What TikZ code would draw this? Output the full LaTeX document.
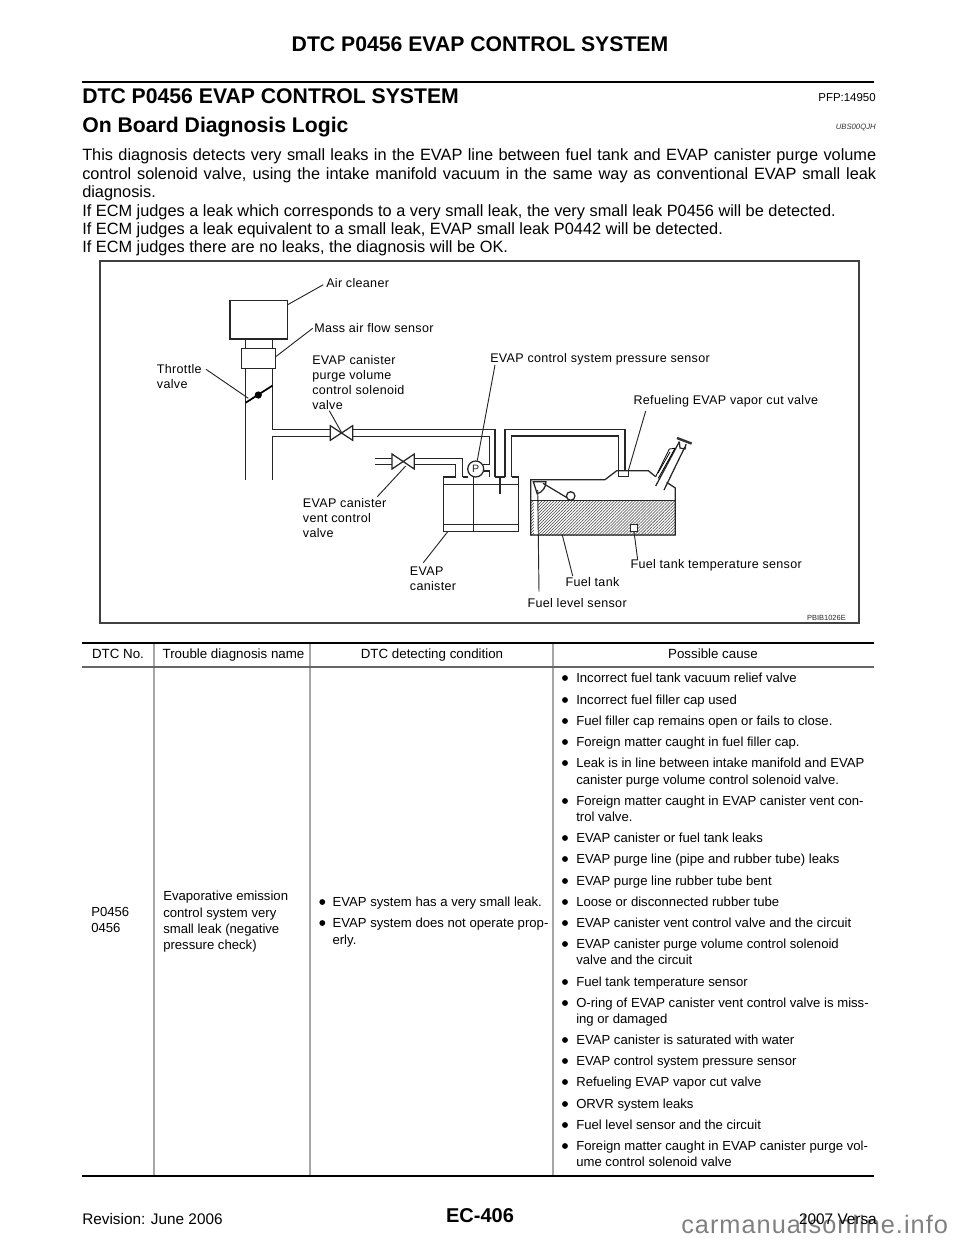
\documentclass[tikz,border=0pt]{standalone}
\usepackage{fontspec}
\setmainfont{Liberation Sans}
\newfontfamily\figfont[LetterSpace=2.5]{Liberation Sans}
\newfontfamily\markfont[LetterSpace=4]{Liberation Sans}
\usetikzlibrary{patterns.meta}

\begin{document}
\begin{tikzpicture}[x=0.75pt,y=-0.75pt,inner sep=0pt,
  heading/.style={font=\bfseries\fontsize{15.9}{18}\selectfont},
  bodytext/.style={anchor=north west,text width=595.5pt,align=justify,font=\fontsize{12.25}{13.8}\selectfont},
  cell/.style={anchor=base west,yshift=-3.4pt,font=\fontsize{9.85}{12}\selectfont},
  headcell/.style={anchor=base,yshift=-3.4pt,font=\fontsize{10}{12}\selectfont},
  dotmark/.style={circle,fill=black,minimum size=4.4pt},
  label/.style={anchor=west,align=left,font=\figfont\fontsize{9.4}{11.2}\selectfont},
  pipe/.style={line width=0.95pt,black!85},
  leader/.style={line width=0.7pt,black!85},
  tablegrid/.style={line width=1pt,black!35}]
\useasboundingbox (0,0) rectangle (960,1242);

% Page head
\node[heading] (pagetitle) at (480,44) {DTC P0456 EVAP CONTROL SYSTEM};
\draw[line width=2pt] (82,82) -- (874,82);
\node[heading,anchor=west] (secttitle) at (82,96) {DTC P0456 EVAP CONTROL SYSTEM};
\node[heading,anchor=west] (subtitle) at (82,127) {On Board Diagnosis Logic};
\node[anchor=east,font=\fontsize{8.6}{10}\selectfont] (pfp) at (876,98) {PFP:14950};
\node[anchor=east,font=\itshape\fontsize{5.8}{7}\selectfont,black!80] (ubs) at (876,128) {UBS00QJH};

% Intro text
\node[bodytext] (intro) at (82,148.7) {This diagnosis detects very small leaks in the EVAP line between fuel tank and EVAP canister purge volume control solenoid valve, using the intake manifold vacuum in the same way as conventional EVAP small leak diagnosis.\\
If ECM judges a leak which corresponds to a very small leak, the very small leak P0456 will be detected.\\
If ECM judges a leak equivalent to a small leak, EVAP small leak P0442 will be detected.\\
If ECM judges there are no leaks, the diagnosis will be OK.};

% Figure frame
\draw[line width=1.5pt,black!75] (100,261) rectangle (859,623);

% Intake
\draw[pipe] (245.7,339) -- (245.7,480);
\draw[pipe] (272.3,339) -- (272.3,429.3) -- (330.3,429.3);
\draw[pipe] (272.3,480) -- (272.3,436.7) -- (330.3,436.7);
\draw[pipe,fill=white] (230,300.3) rectangle (287.7,339);
\draw[pipe,fill=white] (241.3,348.7) rectangle (275.7,368.3);
\draw[line width=1.3pt] (245.7,402.7) -- (272.3,385.7);
\fill (258.3,395) circle (2.7pt);

% Purge valve and its lines
\draw[pipe] (330.3,425.7) -- (352.7,440.3) -- (352.7,425.7) -- (330.3,440.3) -- cycle;
\draw[pipe] (352.7,429.3) -- (495,429.3) -- (495,476.7);
\draw[pipe] (352.7,436.7) -- (489.3,436.7) -- (489.3,464.3) -- (483,464.3);
\draw[pipe] (483.5,471) -- (489.3,471) -- (489.3,476.7);

% Vent valve and its lines
\draw[pipe] (392,454) -- (414.3,469) -- (414.3,454) -- (392,469) -- cycle;
\draw[pipe] (375.3,458.3) -- (392,458.3);
\draw[pipe] (375.3,464.3) -- (392,464.3);
\draw[pipe] (414.3,458.3) -- (462.7,458.3) -- (462.7,477);
\draw[pipe] (414.3,464.3) -- (455.7,464.3) -- (455.7,477);

% Canister
\draw[pipe] (455.7,477) -- (443.5,477) -- (443.5,531.7) -- (518.7,531.7) -- (518.7,477) -- (511.7,477);
\draw[pipe] (462.7,477) -- (468,477);
\draw[pipe] (495,477) -- (505,477);
\draw[pipe] (443.5,484.5) -- (518.7,484.5);
\draw[pipe] (443.5,524.3) -- (518.7,524.3);
\draw[pipe] (473.3,477) -- (473.3,531.7);
\draw[pipe] (500,477) -- (500,494);
\node[circle,draw,line width=0.95pt,black!85,fill=white,minimum size=12pt,font=\fontsize{8}{10}\selectfont] (psensor) at (475.7,469) {P};

% Line to tank
\draw[pipe] (505,477) -- (505,429.3) -- (625,429.3) -- (625,470.7);
\draw[pipe] (511.7,477) -- (511.7,436) -- (618.3,436) -- (618.3,470.7);
\draw[pipe] (618.3,470.7) rectangle (628.3,476.7);

% Fuel tank
\fill[white,pattern={Lines[angle=45,distance=1.6pt,line width=0.4pt]},pattern color=black!75] (530.7,500.7) rectangle (675.3,535);
\fill[white] (533.5,500.7) rectangle (537.7,535);
\draw[pipe] (530.7,500.7) -- (675.3,500.7);
\draw[pipe] (655.7,476.7) -- (648.3,470.7) -- (616.7,470.7) -- (605,479.7) -- (530.7,479.7) -- (530.7,535) -- (675.3,535) -- (675.3,488) -- (666.7,482.3);
\draw[pipe,fill=white] (630.7,524.3) rectangle (637.7,531.7);

% Filler neck
\draw[pipe] (655.7,486) -- (679.3,441.7);
\draw[pipe] (664,490) -- (685,446.7);
\draw[line width=0.6pt] (655.7,476.7) -- (669.3,449) -- (675,448.3) -- (658.3,478.3);
\draw[line width=0.6pt] (658,473) -- (670,452);
\draw[pipe] (679.3,441.7) -- (680,448) -- (685,449) -- (686,444);
\draw[line width=1.8pt,black!80] (677,438) -- (691.7,443.6);

% Level sender
\coordinate (senderpivot) at (533.3,481.7);
\draw[pipe,fill=white] (senderpivot) -- (546,481.7) arc (0:72:12.7) -- cycle;
\draw[pipe] (543,483.3) -- (568,498.3);
\draw[pipe,fill=white] (570.7,496) circle (3.2pt);

% Labels
\node[label] (aircleaner) at (326,283.3) {Air cleaner};
\node[label] (mafsensor) at (314,328) {Mass air flow sensor};
\node[label] (throttle) at (156.7,376.3) {Throttle\\valve};
\node[label] (purgevalve) at (312,382.3) {EVAP canister\\purge volume\\control solenoid\\valve};
\node[label] (ventvalve) at (302.7,517.7) {EVAP canister\\vent control\\valve};
\node[label] (canister) at (409.7,578.5) {EVAP\\canister};
\node[label] (presssensor) at (490,359) {EVAP control system pressure sensor};
\node[label] (cutvalve) at (633.3,401.7) {Refueling EVAP vapor cut valve};
\node[label] (tempsensor) at (630.3,565.7) {Fuel tank temperature sensor};
\node[label] (fueltank) at (565.3,582) {Fuel tank};
\node[label] (levelsensor) at (527.3,603.3) {Fuel level sensor};
\node[anchor=east,font=\fontsize{5.6}{7}\selectfont,black!85] (figcode) at (846,617.7) {PBIB1026E};

% Leader ends
\coordinate (aircleanerend) at (287.7,304.7);
\coordinate (aircleanerfree) at (323.3,284.7);
\coordinate (mafend) at (275.7,356.7);
\coordinate (maffree) at (312.7,328.3);
\coordinate (throttleend) at (248.3,398.3);
\coordinate (throttlefree) at (206,369.3);
\coordinate (purgeend) at (341.7,432.7);
\coordinate (purgefree) at (329.3,410.7);
\coordinate (ventend) at (405.7,466);
\coordinate (ventfree) at (377.3,496.7);
\coordinate (canisterend) at (447.7,531.7);
\coordinate (canisterfree) at (423.3,562.7);
\coordinate (pressfree) at (495,365);
\coordinate (cutvalveend) at (628.3,470.7);
\coordinate (cutvalvefree) at (645.7,411);
\coordinate (tempend) at (634,531.7);
\coordinate (tempfree) at (637.7,560);
\coordinate (tankend) at (562.3,535);
\coordinate (tankfree) at (572.7,576);
\coordinate (levelend) at (537.7,490);
\coordinate (levelfree) at (539,591.7);

\draw[leader] (aircleanerend) -- (aircleanerfree);
\draw[leader] (mafend) -- (maffree);
\draw[leader] (throttleend) -- (throttlefree);
\draw[leader] (purgeend) -- (purgefree);
\draw[leader] (ventend) -- (ventfree);
\draw[leader] (canisterend) -- (canisterfree);
\draw[leader] (psensor) -- (pressfree);
\draw[leader] (cutvalveend) -- (cutvalvefree);
\draw[leader] (tempend) -- (tempfree);
\draw[leader] (tankend) -- (tankfree);
\draw[leader] (levelend) -- (levelfree);

% Table rules
\draw[tablegrid] (154,643) -- (154,1176);
\draw[tablegrid] (310,643) -- (310,1176);
\draw[tablegrid] (553,643) -- (553,1176);
\draw[line width=1.5pt] (82,643) -- (874,643);
\draw[line width=1pt,black!60] (82,667) -- (874,667);
\draw[line width=1.5pt] (82,1176) -- (874,1176);

% Table header
\node[headcell] (headno) at (118,654) {DTC No.};
\node[headcell] (headname) at (233.5,654) {Trouble diagnosis name};
\node[headcell] (headcond) at (432,654) {DTC detecting condition};
\node[headcell] (headcause) at (713,654) {Possible cause};

% Left cells
\foreach \i/\y/\txt in {1/912/P0456,2/928/0456}
  \node[cell] (code\i) at (91,\y) {\txt};
\foreach \i/\y/\txt in {1/896/Evaporative emission,2/912.5/control system very,3/929/small leak (negative,4/945/pressure check)}
  \node[cell] (name\i) at (163,\y) {\txt};

% Detecting condition
\foreach \i/\y/\txt in {1/902/EVAP system has a very small leak.,2/923/EVAP system does not operate prop-}{
  \node[dotmark] (conddot\i) at (322.3,\y) {};
  \node[cell] (cond\i) at (332.3,\y) {\txt};
}
\node[cell] (condmore) at (332.3,940) {erly.};

% Possible cause
\foreach \i/\y/\txt in {1/678/Incorrect fuel tank vacuum relief valve,
  2/700/Incorrect fuel filler cap used,
  3/721/Fuel filler cap remains open or fails to close.,
  4/742/Foreign matter caught in fuel filler cap.,
  5/763/Leak is in line between intake manifold and EVAP,
  6/801/Foreign matter caught in EVAP canister vent con-,
  7/838/EVAP canister or fuel tank leaks,
  8/859/EVAP purge line (pipe and rubber tube) leaks,
  9/881/EVAP purge line rubber tube bent,
  10/902/Loose or disconnected rubber tube,
  11/923/EVAP canister vent control valve and the circuit,
  12/944/EVAP canister purge volume control solenoid,
  13/982/Fuel tank temperature sensor,
  14/1003/O-ring of EVAP canister vent control valve is miss-,
  15/1040/EVAP canister is saturated with water,
  16/1061/EVAP control system pressure sensor,
  17/1082/Refueling EVAP vapor cut valve,
  18/1104/ORVR system leaks,
  19/1125/Fuel level sensor and the circuit,
  20/1146/Foreign matter caught in EVAP canister purge vol-}{
  \node[dotmark] (causedot\i) at (565,\y) {};
  \node[cell] (cause\i) at (576,\y) {\txt};
}
\foreach \i/\y/\txt in {1/780/canister purge volume control solenoid valve.,
  2/817/trol valve.,
  3/960/valve and the circuit,
  4/1019/ing or damaged,
  5/1162/ume control solenoid valve}
  \node[cell] (causemore\i) at (576,\y) {\txt};

% Page foot
\node[anchor=base west,font=\markfont\fontsize{19}{22}\selectfont,black!50] (watermark) at (681,1233) {carmanualsonline.info};
\node[anchor=west,font=\fontsize{11.5}{14}\selectfont] (revision) at (82,1219) {Revision: June 2006};
\node[font=\bfseries\fontsize{15}{18}\selectfont] (pageno) at (480,1216) {EC-406};
\node[anchor=east,font=\fontsize{11.5}{14}\selectfont] (model) at (877,1219) {2007 Versa};

\end{tikzpicture}
\end{document}
